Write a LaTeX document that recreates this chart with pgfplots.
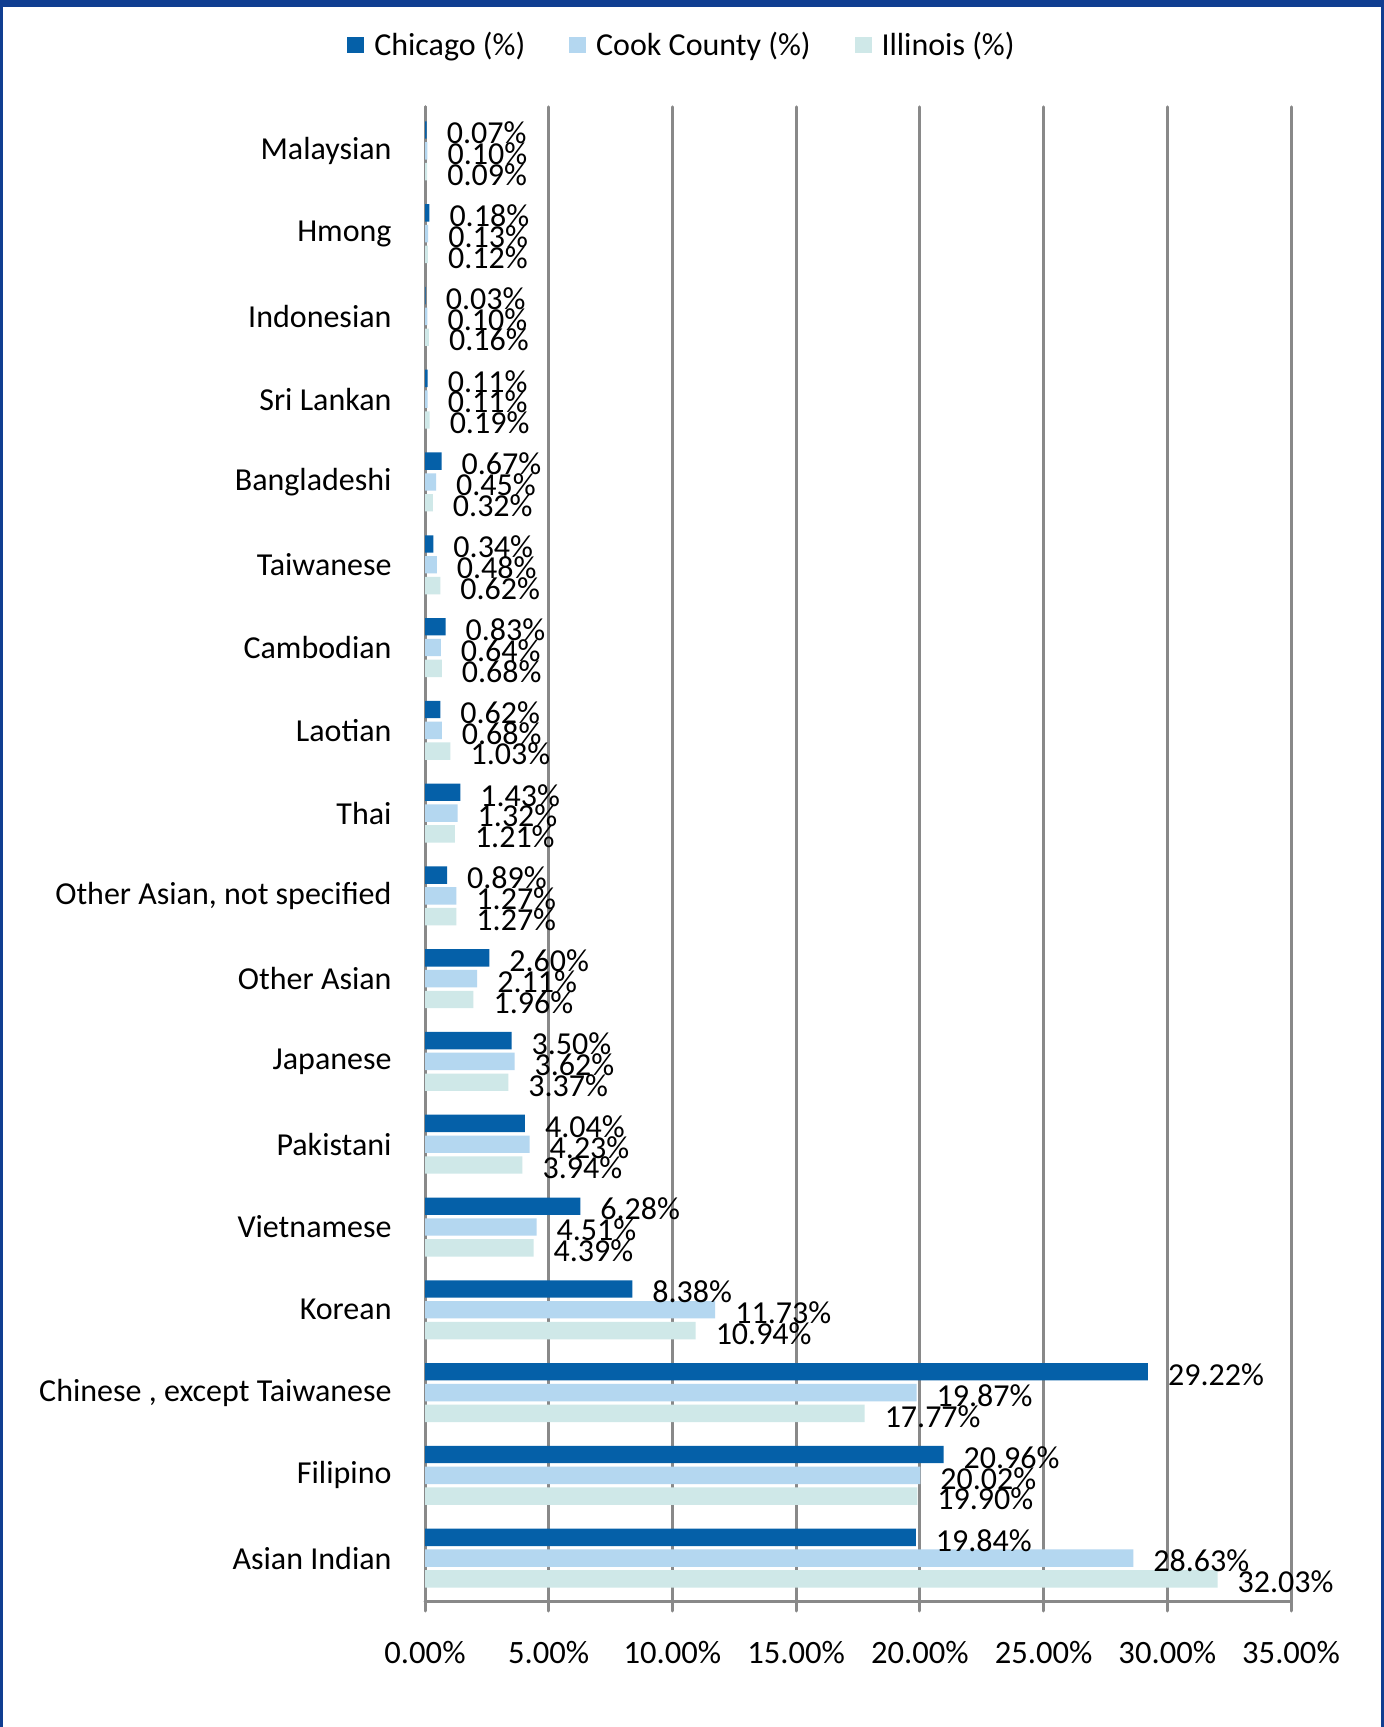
\documentclass[border=0pt]{standalone}
\usepackage{fontspec}
\setmainfont{Carlito}
\usepackage{pgfplots}
\pgfplotsset{compat=1.18}
\definecolor{chi}{RGB}{5,96,168}
\definecolor{cook}{RGB}{180,215,240}
\definecolor{ill}{RGB}{207,232,232}
\definecolor{framec}{RGB}{16,62,145}
\definecolor{gridc}{RGB}{137,137,137}
\pgfplotsset{
  mybar/.style={fill=#1, draw=none,
    legend image code/.code={\fill[#1] (0pt,-4.2pt) rectangle (8.4pt,4.2pt);}},
}
\begin{document}
\begin{tikzpicture}
\useasboundingbox (0,0) rectangle (692pt,863.5pt);
\fill[white] (0,0) rectangle (692pt,863.5pt);
\begin{axis}[
  at={(212.5pt,62.5pt)}, anchor=south west,
  width=433pt, height=747.5pt, scale only axis,
  xbar, bar width=8.7pt,
  xmin=0, xmax=35, ymin=-0.53, ymax=17.53,
  xtick={0,5,...,35},
  ytick={0,...,17},
  yticklabels={Asian Indian, Filipino, {Chinese , except Taiwanese}, Korean, Vietnamese, Pakistani, Japanese, Other Asian, {Other Asian, not specified}, Thai, Laotian, Cambodian, Taiwanese, Bangladeshi, Sri Lankan, Indonesian, Hmong, Malaysian},
  axis x line*=bottom, axis y line*=left,
  axis line style={draw=gridc, line width=1.5pt, line cap=round},
  xmajorgrids, major grid style={draw=gridc, line width=1.5pt, line cap=round},
  xtick align=outside, major tick length=4.5pt,
  xtick style={draw=gridc, line width=1.5pt, line cap=round},
  ytick style={draw=none},
  /pgf/number format/assume math mode=true,
  xticklabel={\pgfmathprintnumber[fixed,fixed zerofill,precision=2]{\tick}\%},
  xticklabel style={font=\fontsize{16.3}{19}\selectfont, yshift=-11.5pt},
  yticklabel style={font=\fontsize{16}{19}\selectfont, xshift=-8.7pt},
  point meta=x,
  nodes near coords={\pgfmathprintnumber[fixed,fixed zerofill,precision=2]{\pgfplotspointmeta}\%},
  every node near coord/.append style={font=\fontsize{16}{18}\selectfont, anchor=west, xshift=6.5pt, yshift=-1.5pt, text=black},
  legend columns=3,
  legend style={draw=none, fill=none, at={(0.298,1)}, anchor=center, yshift=31pt,
    font=\fontsize{16}{19}\selectfont,
    /tikz/every odd column/.append style={column sep=3pt},
    /tikz/every even column/.append style={column sep=20pt}},
]
\addplot[mybar=chi, bar shift=10.4pt] coordinates {
(19.84,0) (20.96,1) (29.22,2) (8.38,3) (6.28,4) (4.04,5) (3.50,6) (2.60,7) (0.89,8) (1.43,9) (0.62,10) (0.83,11) (0.34,12) (0.67,13) (0.11,14) (0.03,15) (0.18,16) (0.07,17)};
\addlegendentry{Chicago (\%)}
\addplot[mybar=cook, bar shift=0pt] coordinates {
(28.63,0) (20.02,1) (19.87,2) (11.73,3) (4.51,4) (4.23,5) (3.62,6) (2.11,7) (1.27,8) (1.32,9) (0.68,10) (0.64,11) (0.48,12) (0.45,13) (0.11,14) (0.10,15) (0.13,16) (0.10,17)};
\addlegendentry{Cook County (\%)}
\addplot[mybar=ill, bar shift=-10.4pt] coordinates {
(32.03,0) (19.90,1) (17.77,2) (10.94,3) (4.39,4) (3.94,5) (3.37,6) (1.96,7) (1.27,8) (1.21,9) (1.03,10) (0.68,11) (0.62,12) (0.32,13) (0.19,14) (0.16,15) (0.12,16) (0.09,17)};
\addlegendentry{Illinois (\%)}
\end{axis}
\fill[framec] (0,859.8pt) rectangle (692pt,863.5pt);
\fill[framec] (0,0) rectangle (1.5pt,863.5pt);
\fill[framec] (690.5pt,0) rectangle (692pt,863.5pt);
\end{tikzpicture}
\end{document}
